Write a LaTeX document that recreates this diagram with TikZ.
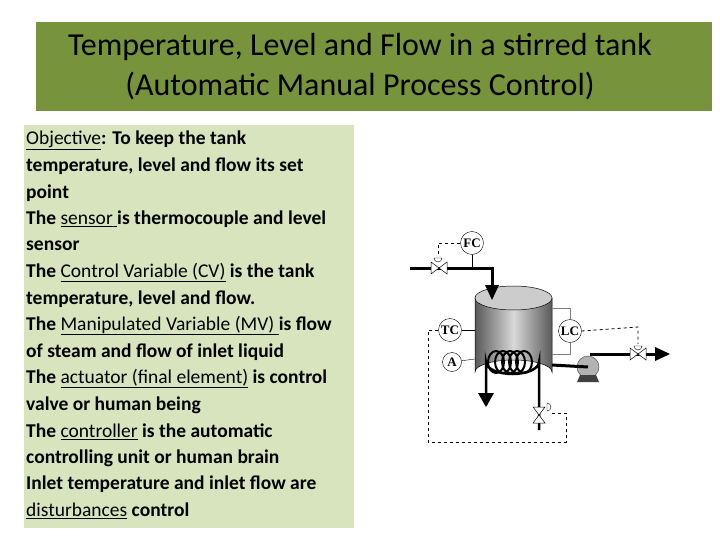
\documentclass[tikz,border=0pt]{standalone}
\usepackage{fontspec}
\setmainfont{Carlito}
\usetikzlibrary{arrows.meta}
\definecolor{titlegreen}{HTML}{77933C}
\definecolor{boxgreen}{HTML}{D7E4BD}
\newcommand{\ul}[1]{\underline{\mdseries #1}}
\begin{document}
\begin{tikzpicture}[x=1pt,y=-1pt,
  txt/.style={anchor=west,inner sep=0pt,font=\fontsize{19.5}{22}\selectfont\bfseries},
  inst/.style={circle,draw,fill=white,minimum size=23pt,inner sep=0pt,font=\fontsize{13}{13}\selectfont\bfseries\fontspec{Liberation Serif}},
  pipe/.style={line width=3pt},
  sig/.style={dashed,line width=0.8pt},
  vlv/.style={draw,fill=white,line width=0.5pt}]
\useasboundingbox (0,0) rectangle (720,540);
\fill[titlegreen] (36,22) rectangle (712,111);
\node[align=center,font=\fontsize{32}{40}\selectfont] (title) at (360,67) {Temperature, Level and Flow in a stirred tank\\(Automatic Manual Process Control)};
\fill[boxgreen] (24,125) rectangle (354,528);
\foreach \t [count=\i from 0] in {
 {\ul{Objective}: To keep the tank},
 {temperature, level and flow its set},
 {point},
 {The \ul{sensor }is thermocouple  and level},
 {sensor},
 {The \ul{Control Variable (CV)} is the tank},
 {temperature, level and flow.},
 {The \ul{Manipulated Variable (MV) }is flow},
 {of steam and flow of inlet liquid},
 {The \ul{actuator  (final element)} is control},
 {valve or human being},
 {The \ul{controller} is the automatic},
 {controlling unit or human brain},
 {Inlet temperature and inlet flow are},
 {\ul{disturbances} control}}
 \node[txt] (l\i) at (26,{140+26.5*\i}) {\t};
% tank
\shade[left color=gray!70!black,right color=gray!70!black,middle color=gray!30] (475,298) -- (475,372) arc[start angle=180,end angle=360,x radius=38.5,y radius=12] -- (552,298) -- cycle;
\draw[line width=0.5pt] (475,298) -- (475,372) arc[start angle=180,end angle=360,x radius=38.5,y radius=12] -- (552,298);
\draw[fill=gray!40,line width=0.5pt] (513.5,298) ellipse[x radius=38.5,y radius=12];
% coil
\foreach \xx in {496,503,510,517,524} \draw[line width=2pt] (\xx,362) ellipse[x radius=8,y radius=11];
\draw[line width=2.5pt] (486,405) -- (486,362) arc[start angle=180,end angle=0,x radius=26.5,y radius=12] -- (539,430);
\fill (478,393) -- (494,393) -- (486,407) -- cycle;
% inlet
\coordinate (in0) at (410,268);
\coordinate (inc) at (492,268);
\draw[pipe] (in0) -- (inc) -- (492,290);
\fill (485,285) -- (499,285) -- (492,300) -- cycle;
\node[inst] (FC) at (472,243) {FC};
\draw (FC) -- (472,268);
\draw[vlv] (431,262) -- (447,274) -- (447,262) -- (431,274) -- cycle;
\draw[sig] (FC.west) -- (438,243) -- (438,256);
\draw[fill=white] (434,258) arc[start angle=180,end angle=0,radius=4] -- cycle;
% instruments
\node[inst] (TC) at (450,330) {TC};
\node[inst,minimum size=19pt] (A) at (452,362) {A};
\draw (TC) -- (475,330);
\draw (A) -- (475,359);
\node[inst] (LC) at (570,331) {LC};
\draw[gray] (552,308) -- (570,308) -- (LC);
\draw[gray] (552,354) -- (570,354) -- (LC);
% outlet
\node[circle,fill=gray!60,draw=gray!50!black,minimum size=22pt,inner sep=0pt] (P) at (588,367) {};
\fill[gray!50!black] (580,375) -- (596,375) -- (599,382) -- (577,382) -- cycle;
\draw[pipe] (552,365) -- (P.center);
\draw[pipe] (590,354) -- (655,354);
\fill (655,347) -- (670,354) -- (655,361) -- cycle;
\draw[vlv] (630,348) -- (646,360) -- (646,348) -- (630,360) -- cycle;
\draw[sig] (LC.east) -- (638,327) -- (638,344);
\draw[fill=white] (634,346) arc[start angle=180,end angle=0,radius=4] -- cycle;
% steam valve
\draw[vlv] (533,407) -- (545,423) -- (533,423) -- (545,407) -- cycle;
\draw[fill=white] (547,411) arc[start angle=90,end angle=-90,radius=4] -- cycle;
\draw[sig] (TC.west) -- (428,330) -- (428,442) -- (566,442) -- (566,413) -- (551,413);
\end{tikzpicture}
\end{document}
